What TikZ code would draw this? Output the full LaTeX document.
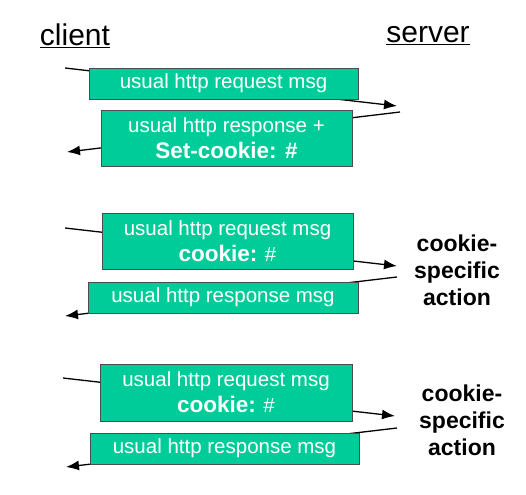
\documentclass[tikz,border=0pt]{standalone}
\usepackage{fontspec}
\setmainfont{Liberation Sans}
\usetikzlibrary{arrows.meta}
\definecolor{msggreen}{RGB}{0,204,153}

\begin{document}
\begin{tikzpicture}[x=1pt, y=-1pt]
\tikzset{msgbox/.style={draw=black!70, line width=0.8pt, fill=msggreen, text=white, inner sep=0pt, align=center, font=\fontsize{20.5}{26}\selectfont},
  msgline/.style={line width=1.3pt, -{Latex[length=13pt, width=10pt]}},
  endlabel/.style={font=\fontsize{30}{36}\selectfont, anchor=base},
  actlabel/.style={font=\fontsize{23}{27}\selectfont\bfseries, align=center}}
\useasboundingbox (0, 0) rectangle (526, 494);
\coordinate (C1) at (65, 68);
\coordinate (S1) at (397, 106);
\coordinate (S2) at (400, 112);
\coordinate (C2) at (67, 152);
\coordinate (C3) at (65, 228);
\coordinate (S3) at (397, 266);
\coordinate (S4) at (397, 277);
\coordinate (C4) at (65, 316);
\coordinate (C5) at (63, 378);
\coordinate (S5) at (395, 416);
\coordinate (S6) at (397, 428);
\coordinate (C6) at (66, 467);
\draw[msgline] (C1) -- (S1);
\draw[msgline] (S2) -- (C2);
\draw[msgline] (C3) -- (S3);
\draw[msgline] (S4) -- (C4);
\draw[msgline] (C5) -- (S5);
\draw[msgline] (S6) -- (C6);
\node[msgbox, minimum width=269pt, minimum height=31pt] (R1) at (223.5, 83.5) {usual http request msg};
\node[msgbox, minimum width=251pt, minimum height=56pt] (A1) at (226.5, 138) {usual http response +\\\textbf{\fontsize{22.5}{26}\selectfont Set-cookie: \#}};
\node[msgbox, minimum width=251pt, minimum height=56pt] (R2) at (227.5, 241) {usual http request msg\\\textbf{\fontsize{22.5}{26}\selectfont cookie:} \#};
\node[msgbox, minimum width=270pt, minimum height=31pt] (A2) at (223, 297.5) {usual http response msg};
\node[msgbox, minimum width=252pt, minimum height=57pt] (R3) at (226, 392.5) {usual http request msg\\\textbf{\fontsize{22.5}{26}\selectfont cookie:} \#};
\node[msgbox, minimum width=269pt, minimum height=31pt] (A3) at (224.5, 448.5) {usual http response msg};
\node[endlabel] (CL) at (75, 46) {\underline{client}};
\node[endlabel] (SV) at (428, 43) {\underline{server}};
\node[actlabel] (K1) at (457, 270) {cookie-\\specific\\action};
\node[actlabel] (K2) at (462, 420) {cookie-\\specific\\action};
\end{tikzpicture}
\end{document}
